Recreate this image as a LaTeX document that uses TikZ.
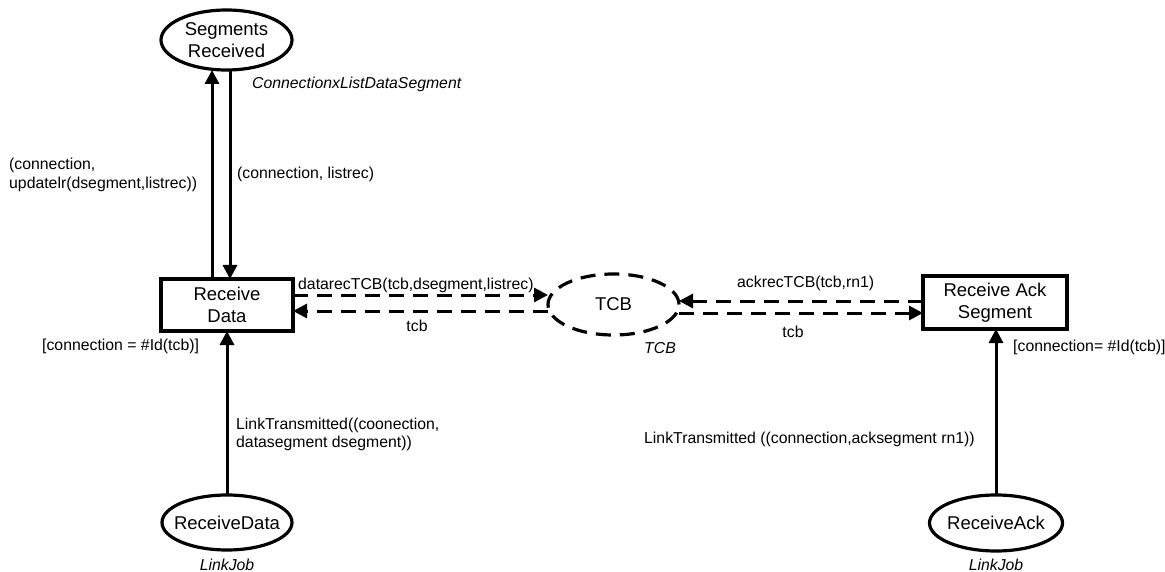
\documentclass[tikz,border=0pt]{standalone}
\usepackage{fontspec}
\setmainfont{Liberation Sans}
\usetikzlibrary{arrows.meta,shapes.geometric,calc}
\begin{document}
\begin{tikzpicture}[x=1pt,y=1pt,
  shapefont/.style={font=\fontsize{18.5}{22}\selectfont},
  lbl/.style={font=\fontsize{15.8}{18.5}\selectfont, inner sep=0pt},
  itlbl/.style={font=\fontsize{15.8}{18.5}\selectfont\itshape, inner sep=0pt},
  place/.style={ellipse, draw, line width=3.2pt, inner sep=0pt, outer sep=0pt},
  dplace/.style={ellipse, draw, line width=3.2pt, inner sep=0pt, outer sep=0pt, dash pattern=on 15pt off 9pt},
  trans/.style={rectangle, draw, line width=3.4pt, inner sep=0pt, outer sep=0pt, align=center, shapefont},
  arc/.style={line width=3pt, -{Triangle[length=14pt,width=14pt]}},
  darc/.style={line width=3pt, dash pattern=on 15pt off 9pt, -{Triangle[length=14pt,width=14pt]}}
]
\useasboundingbox (0,0) rectangle (1165,-572);

% places
\node[place, minimum width=131pt, minimum height=60pt] (SR) at (226.5,-40) {};
\node[shapefont, align=center, inner sep=0pt] (SRt) at (SR) {Segments\\Received};
\node[dplace, minimum width=131pt, minimum height=61pt] (TCB) at (613.5,-304.5) {};
\node[shapefont, inner sep=0pt] (TCBt) at (TCB) {TCB};
\node[place, minimum width=130pt, minimum height=55pt] (RDp) at (227,-522.5) {};
\node[shapefont, inner sep=0pt] (RDpt) at (RDp) {ReceiveData};
\node[place, minimum width=133pt, minimum height=56pt] (RAp) at (996,-523) {};
\node[shapefont, inner sep=0pt] (RApt) at (RAp) {ReceiveAck};

% transitions
\node[trans, minimum width=132pt, minimum height=52pt] (RD) at (227,-305) {Receive\\Data};
\node[trans, minimum width=144pt, minimum height=53pt] (RA) at (995,-302.5) {Receive Ack\\Segment};

% arcs
\draw[arc] ([xshift=-15pt]RD.north) -- ([xshift=-14.5pt]SR.south);
\draw[arc] ([xshift=3.5pt]SR.south) -- ([xshift=3pt]RD.north);
\draw[darc] ([yshift=10pt]RD.east) -- ([yshift=10pt]RD.east -| TCB.west);
\draw[darc] ([yshift=-6pt]RD.east -| TCB.west) -- ([yshift=-6pt]RD.east);
\draw[darc] ([yshift=1.5pt]RA.west) -- ([yshift=1.5pt]RA.west -| TCB.east);
\draw[darc] ([yshift=-10.5pt]RA.west -| TCB.east) -- ([yshift=-10.5pt]RA.west);
\draw[arc] (RDp.north) -- (RD.south);
\draw[arc] (RAp.north) -- (RAp.north |- RA.south);

% labels
\node[itlbl, anchor=west] (l1) at (252,-84) {ConnectionxListDataSegment};
\node[lbl, anchor=west] (l2) at (237,-174) {(connection, listrec)};
\node[lbl, anchor=west, align=left] (l3) at (9,-175) {(connection,\\updatelr(dsegment,listrec))};
\node[lbl, anchor=west] (l4) at (298,-285) {datarecTCB(tcb,dsegment,listrec)};
\node[lbl] (l5) at (417,-326) {tcb};
\node[lbl, anchor=west] (l6) at (42,-346) {[connection = \#Id(tcb)]};
\node[itlbl] (l7) at (660,-348) {TCB};
\node[lbl, anchor=west] (l8) at (737,-283) {ackrecTCB(tcb,rn1)};
\node[lbl] (l9) at (793,-332) {tcb};
\node[lbl, anchor=west] (l10) at (1013,-347) {[connection= \#Id(tcb)]};
\node[lbl, anchor=west, align=left] (l11) at (236,-434.5) {LinkTransmitted((coonection,\\datasegment dsegment))};
\node[lbl, anchor=west] (l12) at (644,-439) {LinkTransmitted ((connection,acksegment rn1))};
\node[itlbl] (l13) at (227,-565) {LinkJob};
\node[itlbl] (l14) at (996,-565) {LinkJob};
\end{tikzpicture}
\end{document}
